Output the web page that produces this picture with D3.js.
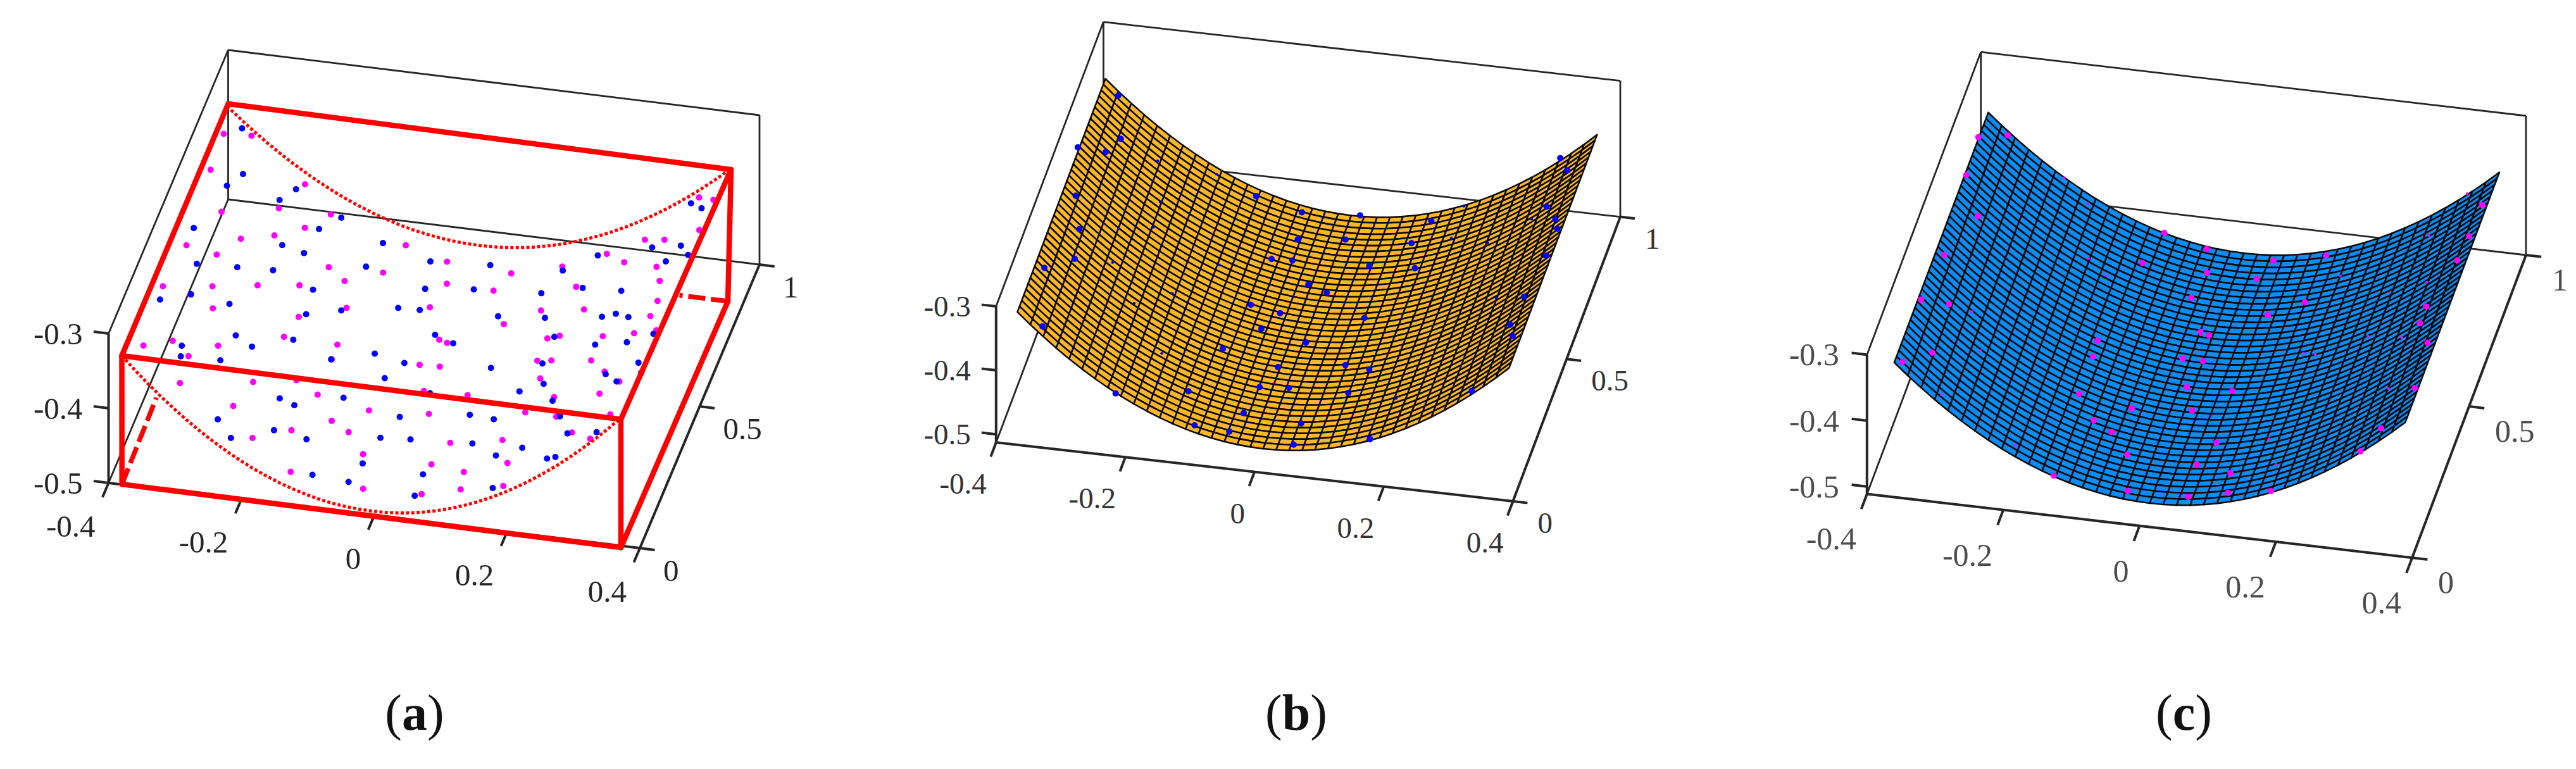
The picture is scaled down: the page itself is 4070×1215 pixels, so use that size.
<!DOCTYPE html>
<html>
<head>
<meta charset="utf-8">
<script src="https://cdn.jsdelivr.net/npm/d3@7"></script>
<style>
  body { margin: 0; background: #fff; }
  text { font-family: "Liberation Serif", serif; }
</style>
</head>
<body>
<svg id="chart" width="4070" height="1215"></svg>
<script>
var xTicks = [-0.4, -0.2, 0, 0.2, 0.4];
var xTickLabels = ['-0.4', '-0.2', '0', '0.2', '0.4'];
var yTicks = [0, 0.5, 1];
var yTickLabels = ['0', '0.5', '1'];
var zTicks = [-0.5, -0.4, -0.3];
var zTickLabels = ['-0.5', '-0.4', '-0.3'];

// surface profile: offset from the centre line and rise above the lowest point
var meshU = [-0.38, -0.36, -0.34, -0.32, -0.30, -0.28, -0.26, -0.24, -0.22, -0.20, -0.18, -0.16, -0.14, -0.12, -0.10, -0.08, -0.06, -0.04, -0.02, 0,
  0.02, 0.04, 0.06, 0.08, 0.10, 0.12, 0.14, 0.16, 0.18, 0.20, 0.22, 0.24, 0.26, 0.28, 0.30, 0.32, 0.34, 0.36, 0.38];
var meshRise = [0.1704, 0.1529, 0.1364, 0.1208, 0.1062, 0.0925, 0.0798, 0.0680, 0.0571, 0.0472, 0.0382, 0.0302, 0.0231, 0.0170, 0.0118, 0.0076, 0.0042, 0.0019, 0.0005, 0,
  0.0005, 0.0019, 0.0042, 0.0076, 0.0118, 0.0170, 0.0231, 0.0302, 0.0382, 0.0472, 0.0571, 0.0680, 0.0798, 0.0925, 0.1062, 0.1208, 0.1364, 0.1529, 0.1704];
var meshV = [0, 0.02, 0.04, 0.06, 0.08, 0.10, 0.12, 0.14, 0.16, 0.18, 0.20, 0.22, 0.24, 0.26, 0.28, 0.30, 0.32, 0.34, 0.36, 0.38, 0.40,
  0.42, 0.44, 0.46, 0.48, 0.50, 0.52, 0.54, 0.56, 0.58, 0.60, 0.62, 0.64, 0.66, 0.68, 0.70, 0.72, 0.74, 0.76, 0.78, 0.80, 0.82];

// red box of panel a: front-left, front-right, back-right, back-left, bottom then top
var boxX = [-0.380, 0.3725, 0.3769, -0.380, -0.380, 0.3728, 0.3797, -0.3798];
var boxY = [0.001, -0.006, 0.8639, 0.88, 0, -0.008, 0.8748, 0.8886];
var boxZ = [-0.5, -0.5, -0.5, -0.5, -0.3275, -0.3275, -0.3275, -0.3275];
var boxSolid = [[0, 1], [1, 5], [0, 4], [4, 5], [4, 7], [7, 6], [5, 6], [6, 2], [1, 2]];
var dashX = [[-0.380, -0.383], [0.3769, 0.304]];
var dashY = [[0.001, 0.306], [0.8639, 0.864]];

// points are read against the floor plane of each set of axes
var aBlueX = [-0.423, -0.394, -0.410, -0.326, -0.309, -0.227, -0.252, -0.432, -0.295, -0.259, -0.406, -0.346, -0.293, -0.162, -0.152, -0.073, 0.015, 0.122, 0.163, 0.236, 0.264, 0.276, 0.265, 0.283, 0.292, -0.437, -0.396, -0.335, -0.224, -0.219, -0.171, -0.091, -0.059, -0.064, 0.006, 0.105, 0.161, 0.218, 0.057, 0.125, 0.206, 0.224, 0.244, -0.307, -0.277, -0.378, -0.373, -0.314, -0.222, -0.097, -0.022, 0.009, -0.156, -0.049, 0.078, 0.150, 0.213, 0.257, 0.290, 0.149, 0.286, 0.296, -0.068, 0.163, 0.246, 0.266, 0.133, 0.186, -0.206, -0.181, -0.115, 0.006, -0.282, -0.023, 0.076, 0.113, 0.206, 0.268, 0.227, -0.252, -0.195, -0.143, -0.038, 0.006, 0.097, 0.171, 0.138, 0.213, 0.224, -0.048, -0.113, 0.045, -0.057, 0.153, 0.046];
var aBlueY = [1.244, 1.091, 1.045, 1.019, 1.062, 0.985, 0.938, 0.890, 0.869, 0.851, 0.771, 0.776, 0.781, 0.831, 0.917, 0.875, 0.887, 0.899, 0.964, 1.013, 0.972, 1.031, 1.177, 1.165, 1.003, 0.636, 0.667, 0.650, 0.732, 0.647, 0.674, 0.706, 0.708, 0.781, 0.799, 0.814, 0.849, 0.855, 0.719, 0.733, 0.760, 0.776, 0.770, 0.547, 0.516, 0.490, 0.454, 0.457, 0.556, 0.543, 0.631, 0.610, 0.506, 0.524, 0.543, 0.673, 0.664, 0.685, 0.724, 0.579, 0.621, 0.589, 0.465, 0.511, 0.569, 0.549, 0.476, 0.458, 0.354, 0.337, 0.382, 0.433, 0.258, 0.341, 0.377, 0.372, 0.409, 0.371, 0.355, 0.201, 0.245, 0.228, 0.263, 0.270, 0.282, 0.288, 0.251, 0.262, 0.271, 0.170, 0.111, 0.158, 0.102, 0.141, 0.083];
var aPinkX = [-0.446, -0.405, -0.443, -0.299, -0.402, -0.322, -0.244, -0.432, -0.383, -0.358, -0.312, -0.273, -0.118, -0.215, -0.134, -0.049, 0.050, 0.119, 0.175, 0.205, 0.254, 0.221, 0.249, 0.273, 0.295, 0.293, -0.441, -0.370, -0.306, -0.246, -0.184, -0.036, 0.035, 0.151, 0.267, -0.396, -0.356, -0.228, -0.165, -0.046, 0.115, 0.176, 0.276, 0.275, 0.070, -0.433, -0.394, -0.362, -0.326, -0.237, -0.156, -0.013, 0, 0.141, 0.157, 0.219, 0.262, 0.292, -0.155, -0.026, 0.004, 0.140, 0.160, 0.217, 0.243, 0.270, -0.358, -0.254, -0.193, -0.154, -0.004, 0.061, 0.155, 0.186, 0.249, -0.268, -0.071, 0.017, -0.118, 0.154, 0.201, 0.277, -0.087, -0.170, -0.221, 0.065, 0.138, 0.233, 0.263, -0.053, 0.159, 0.051, 0.102, -0.146, -0.032, 0.055, 0.108, 0.167];
var aPinkY = [1.218, 1.223, 1.092, 1.082, 0.956, 0.991, 0.992, 0.829, 0.810, 0.873, 0.898, 0.936, 0.919, 0.814, 0.818, 0.881, 0.868, 0.912, 0.973, 0.952, 0.950, 1.036, 1.044, 1.200, 1.198, 1.091, 0.682, 0.702, 0.724, 0.741, 0.774, 0.807, 0.803, 0.850, 0.904, 0.665, 0.628, 0.635, 0.685, 0.721, 0.756, 0.777, 0.836, 0.782, 0.695, 0.475, 0.503, 0.458, 0.505, 0.562, 0.558, 0.616, 0.609, 0.665, 0.679, 0.695, 0.718, 0.737, 0.506, 0.524, 0.526, 0.586, 0.593, 0.609, 0.577, 0.550, 0.364, 0.398, 0.422, 0.382, 0.438, 0.442, 0.528, 0.471, 0.501, 0.309, 0.350, 0.363, 0.300, 0.408, 0.406, 0.436, 0.269, 0.252, 0.210, 0.275, 0.306, 0.360, 0.346, 0.201, 0.231, 0.195, 0.183, 0.112, 0.085, 0.091, 0.123, 0.152];

var bBlueX = [-0.413, -0.385, -0.444, -0.400, -0.420, -0.396, -0.386, -0.426, -0.396, -0.152, -0.075, 0.013, 0.122, -0.066, 0.005, 0.105, -0.094, -0.062, 0.055, 0.124, -0.025, 0.007, -0.099, -0.051, 0.077, -0.070, 0.004, -0.116, -0.024, 0.075, 0.113, -0.250, -0.143, -0.040, 0.004, 0.095, -0.049, -0.115, 0.042, -0.060, 0.043, 0.153, 0.277, 0.278, 0.295, 0.285, 0.305, 0.313, 0.312, 0.302, 0.297, 0.307];
var bBlueY = [1.216, 1.071, 1.026, 1.021, 0.862, 0.751, 0.649, 0.607, 0.409, 0.930, 0.893, 0.905, 0.913, 0.800, 0.818, 0.831, 0.724, 0.727, 0.738, 0.748, 0.652, 0.631, 0.562, 0.545, 0.561, 0.485, 0.456, 0.403, 0.362, 0.395, 0.389, 0.211, 0.246, 0.288, 0.296, 0.302, 0.194, 0.134, 0.181, 0.126, 0.107, 0.155, 0.356, 1.175, 1.136, 1.006, 0.967, 0.936, 0.841, 0.694, 0.594, 0.557];
// points almost buried in the surface, only a sliver shows
var bHiddenX = [-0.318, -0.223, -0.291, -0.338, -0.287, -0.328, -0.168, -0.222, -0.273, -0.204, -0.194, 0.161, 0.162, 0.218, 0.270, 0.261, 0.169];
var bHiddenY = [1.011, 0.989, 0.873, 0.766, 0.786, 0.651, 0.684, 0.570, 0.522, 0.364, 0.269, 0.864, 0.976, 0.862, 0.958, 0.679, 0.302];

var cPinkX = [-0.432, -0.392, -0.429, -0.391, -0.418, -0.427, -0.385, -0.383, -0.420, -0.120, -0.052, -0.135, -0.039, 0.048, 0.119, 0.034, -0.048, 0.114, 0.069, -0.017, -0.003, -0.157, -0.155, -0.028, 0.002, -0.155, -0.007, 0.059, -0.073, 0.013, -0.120, -0.089, 0.064, -0.055, 0.048, 0.100, -0.147, -0.035, 0.053, 0.107, 0.166, 0.271, 0.288, 0.314, 0.308, 0.287, 0.287, 0.306, 0.310, 0.312];
var cPinkY = [1.170, 1.187, 1.046, 0.920, 0.785, 0.635, 0.631, 0.471, 0.431, 0.936, 0.901, 0.833, 0.826, 0.888, 0.925, 0.824, 0.741, 0.769, 0.714, 0.636, 0.628, 0.571, 0.518, 0.545, 0.545, 0.395, 0.457, 0.461, 0.370, 0.384, 0.317, 0.286, 0.292, 0.221, 0.215, 0.200, 0.127, 0.106, 0.110, 0.137, 0.159, 0.318, 0.398, 0.538, 0.686, 0.745, 0.800, 0.958, 1.039, 1.142];
var cHiddenX = [-0.290, -0.243, -0.213, -0.179, -0.349, -0.316, -0.348, -0.217, 0.150, 0.221, 0.269, 0.253, 0.275, 0.285, 0.139, 0.156, 0.277, 0.136, 0.159];
var cHiddenY = [1.074, 1.001, 0.827, 0.779, 0.616, 0.495, 0.341, 0.209, 0.865, 0.685, 0.693, 1.026, 0.878, 1.172, 0.607, 0.608, 0.527, 0.323, 0.245];

var panelA = {
    ox: 171.5, oy: 763, ex: [839.5, 103], ey: [189, -448], h: 236, zMin: -0.5,
    labelColor: '#262626', fontSize: 49,
    xLabel: [-21, 68], yLabel: [37, 35], zLabel: -41,
    caption: 'a', captionX: 655
};
var panelB = {
    ox: 1573.8, oy: 699, ex: [816.6, 93], ey: [169.6, -449.4], h: 215, zMin: -0.5127,
    labelColor: '#333', fontSize: 47,
    xLabel: [-15, 65], yLabel: [39, 34], zLabel: -40,
    caption: 'b', captionX: 2048,
    meshX: [-0.367, 0.394], meshY: 0.82, meshZ: [-0.475, -0.305], fill: '#FFB726'
};
var panelC = {
    ox: 2949.8, oy: 780.4, ex: [861.3, 100.8], ey: [179.9, -478.2], h: 220, zMin: -0.5111,
    labelColor: '#4d4d4d', fontSize: 50,
    xLabel: [-17, 71], yLabel: [41, 38.5], zLabel: -44,
    caption: 'c', captionX: 3450.5,
    meshX: [-0.36, 0.39], meshY: 0.826, meshZ: [-0.475, -0.307], fill: '#0A8CF5'
};

var svg = d3.select('#chart');

function makeProjection(p) {
    var sx = d3.scaleLinear().domain([-0.4, 0.4]).range([0, 1]);
    var sy = d3.scaleLinear().domain([0, 1]).range([0, 1]);
    var sz = d3.scaleLinear().domain([p.zMin, -0.3]).range([0, p.h]);
    return function (x, y, z) {
        return [p.ox + sx(x) * p.ex[0] + sy(y) * p.ey[0],
            p.oy + sx(x) * p.ex[1] + sy(y) * p.ey[1] - sz(z)];
    };
}

function segment(g, a, b, width, color) {
    return g.append('line')
        .attr('x1', a[0]).attr('y1', a[1])
        .attr('x2', b[0]).attr('y2', b[1])
        .attr('stroke', color)
        .attr('stroke-width', width);
}

function drawAxes(g, p, proj) {
    var zf = p.zMin;
    var ink = '#262626';

    // back walls
    segment(g, proj(-0.4, 1, -0.3), proj(0.4, 1, -0.3), 2.8, ink);
    segment(g, proj(0.4, 1, -0.3), proj(0.4, 1, zf), 2.8, ink);
    segment(g, proj(-0.4, 1, -0.3), proj(-0.4, 1, zf), 2.8, ink);
    segment(g, proj(-0.4, 1, zf), proj(0.4, 1, zf), 2.8, ink);
    segment(g, proj(-0.4, 0, -0.3), proj(-0.4, 1, -0.3), 2.8, ink);
    segment(g, proj(-0.4, 0, zf), proj(-0.4, 1, zf), 2.8, ink);

    // front axes
    segment(g, proj(-0.4, 0, zf), proj(-0.4, 0, -0.3), 4, ink);
    segment(g, proj(-0.4, 0, zf), proj(0.4, 0, zf), 4, ink);
    segment(g, proj(0.4, 0, zf), proj(0.4, 1, zf), 4, ink);

    xTicks.forEach(function (t, i) {
        var base = proj(t, 0, zf);
        segment(g, base, proj(t, -0.05, zf), 4, ink);
        g.append('text')
            .attr('x', base[0] + p.xLabel[0])
            .attr('y', base[1] + p.xLabel[1])
            .attr('text-anchor', 'end')
            .attr('dominant-baseline', 'central')
            .attr('font-size', p.fontSize)
            .attr('fill', p.labelColor)
            .text(xTickLabels[i]);
    });
    yTicks.forEach(function (t, i) {
        var base = proj(0.4, t, zf);
        segment(g, base, proj(0.4225, t, zf), 4, ink);
        g.append('text')
            .attr('x', base[0] + p.yLabel[0])
            .attr('y', base[1] + p.yLabel[1])
            .attr('dominant-baseline', 'central')
            .attr('font-size', p.fontSize)
            .attr('fill', p.labelColor)
            .text(yTickLabels[i]);
    });
    zTicks.forEach(function (t, i) {
        var base = proj(-0.4, 0, t);
        segment(g, base, proj(-0.4225, 0, t), 4, ink);
        g.append('text')
            .attr('x', base[0] + p.zLabel)
            .attr('y', base[1])
            .attr('text-anchor', 'end')
            .attr('dominant-baseline', 'central')
            .attr('font-size', p.fontSize)
            .attr('fill', p.labelColor)
            .text(zTickLabels[i]);
    });
}

function drawDots(g, p, proj, xs, ys, color, r) {
    g.append('g').selectAll('circle')
        .data(xs)
        .enter()
        .append('circle')
        .attr('cx', function (d, i) { return proj(d, ys[i], p.zMin)[0]; })
        .attr('cy', function (d, i) { return proj(d, ys[i], p.zMin)[1]; })
        .attr('r', r)
        .attr('fill', color);
}

function drawCaption(g, p) {
    var t = g.append('text')
        .attr('x', p.captionX)
        .attr('y', 1153)
        .attr('text-anchor', 'middle')
        .attr('font-size', 80)
        .attr('fill', '#111');
    t.append('tspan').text('(');
    t.append('tspan').attr('font-weight', 'bold').text(p.caption);
    t.append('tspan').text(')');
}

function drawSurface(g, p, proj) {
    var xOf = d3.scaleLinear().domain([-0.38, 0.38]).range(p.meshX);
    var yOf = d3.scaleLinear().domain([0, 0.82]).range([0, p.meshY]);
    var zOf = d3.scaleLinear().domain([0, 0.1704]).range(p.meshZ);
    var line = d3.line();

    var cells = [];
    for (var j = meshV.length - 2; j >= 0; j--) {
        for (var i = 0; i < meshU.length - 1; i++) {
            cells.push({i: i, j: j});
        }
    }
    function corner(i, j) {
        return proj(xOf(meshU[i]), yOf(meshV[j]), zOf(meshRise[i]));
    }
    g.append('g').selectAll('path')
        .data(cells)
        .enter()
        .append('path')
        .attr('d', function (c) {
            return line([corner(c.i, c.j), corner(c.i + 1, c.j), corner(c.i + 1, c.j + 1), corner(c.i, c.j + 1)]) + 'Z';
        })
        .attr('fill', p.fill)
        .attr('stroke', '#0a0a0a')
        .attr('stroke-width', 2.6)
        .attr('stroke-linejoin', 'round');
}

function drawRedBox(g, p, proj) {
    var red = '#ff0000';
    var corners = boxX.map(function (d, i) { return proj(d, boxY[i], boxZ[i]); });
    var line = d3.line();

    // the two curved faces
    var front = d3.scaleLinear().domain([-0.38, 0.38]).range([-0.380, 0.3728]);
    var back = d3.scaleLinear().domain([-0.38, 0.38]).range([-0.3798, 0.3797]);
    var frontZ = d3.scaleLinear().domain([0, 0.1704]).range([-0.4945, -0.3275]);
    var backZ = d3.scaleLinear().domain([0, 0.1704]).range([-0.4725, -0.3275]);
    g.append('path')
        .attr('d', line(meshU.map(function (u, i) { return proj(front(u), 0, frontZ(meshRise[i])); })))
        .attr('fill', 'none').attr('stroke', red).attr('stroke-width', 5).attr('stroke-dasharray', '5 3.4');
    g.append('path')
        .attr('d', line(meshU.map(function (u, i) { return proj(back(u), 0.88, backZ(meshRise[i])); })))
        .attr('fill', 'none').attr('stroke', red).attr('stroke-width', 5).attr('stroke-dasharray', '5 3.4');

    dashX.forEach(function (xs, i) {
        segment(g, proj(xs[0], dashY[i][0], -0.5), proj(xs[1], dashY[i][1], -0.5), 7.5, red)
            .attr('stroke-dasharray', '27 9');
    });
    boxSolid.forEach(function (e) {
        segment(g, corners[e[0]], corners[e[1]], 8.5, red).attr('stroke-linecap', 'round');
    });
}

// panel a
var gA = svg.append('g');
var projA = makeProjection(panelA);
drawAxes(gA, panelA, projA);
drawDots(gA, panelA, projA, aPinkX, aPinkY, '#ff00ff', 5);
drawDots(gA, panelA, projA, aBlueX, aBlueY, '#0000ff', 5);
drawRedBox(gA, panelA, projA);
drawCaption(gA, panelA);

// panel b
var gB = svg.append('g');
var projB = makeProjection(panelB);
drawAxes(gB, panelB, projB);
drawSurface(gB, panelB, projB);
drawDots(gB, panelB, projB, bHiddenX, bHiddenY, '#0000ff', 2.2);
drawDots(gB, panelB, projB, bBlueX, bBlueY, '#0000ff', 5);
drawCaption(gB, panelB);

// panel c
var gC = svg.append('g');
var projC = makeProjection(panelC);
drawAxes(gC, panelC, projC);
drawSurface(gC, panelC, projC);
drawDots(gC, panelC, projC, cHiddenX, cHiddenY, '#ff00ff', 2.2);
drawDots(gC, panelC, projC, cPinkX, cPinkY, '#ff00ff', 5);
drawCaption(gC, panelC);
</script>
</body>
</html>
